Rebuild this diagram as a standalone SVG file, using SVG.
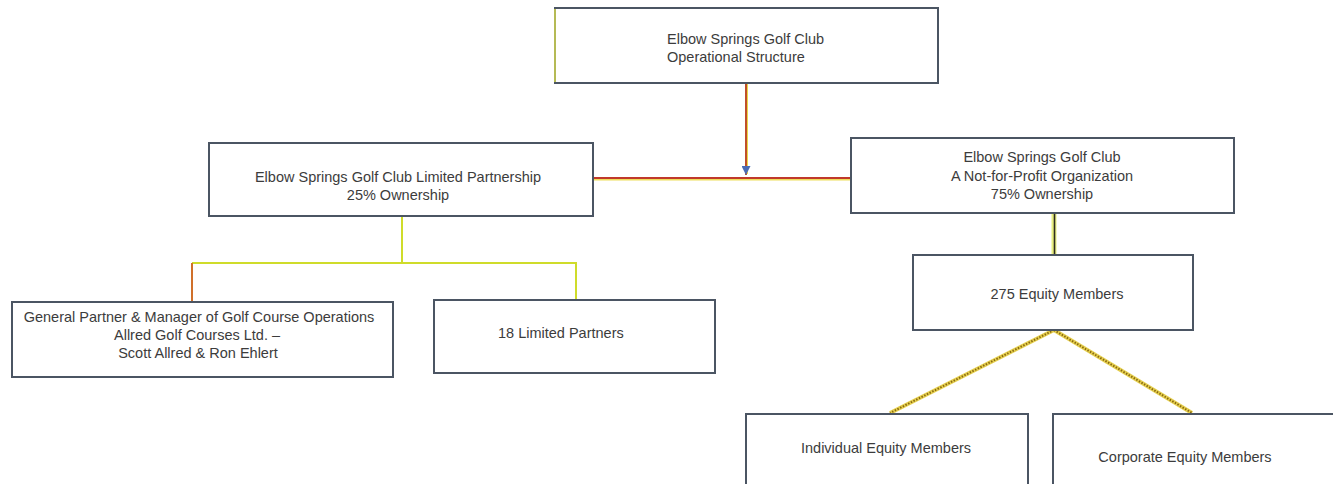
<svg xmlns="http://www.w3.org/2000/svg" width="1333" height="484" viewBox="0 0 1333 484">
<defs>
<style>
.box{fill:#ffffff;stroke:#4b5563;stroke-width:2}
.t{font-family:"Liberation Sans",Arial,sans-serif;font-size:14.5px;fill:#3c3c3c;text-anchor:middle}
.ts{text-anchor:start}
.yg{stroke:#cfdc2a;stroke-width:2;fill:none}
.dot{stroke:#e6d050;stroke-width:4;fill:none}
.dotd{stroke:#8a6a10;stroke-width:2;stroke-dasharray:1.5 1.5;fill:none}
</style>
<marker id="arr" viewBox="0 0 10 10" refX="10" refY="5" markerWidth="11" markerHeight="9" markerUnits="userSpaceOnUse" orient="auto">
<path d="M0,0 L10,5 L0,10 Z" fill="#4a6bb5"/>
</marker>
</defs>
<rect width="1333" height="484" fill="#ffffff"/>
<g id="connectors">
<line x1="747" y1="83" x2="747" y2="174" stroke="#e8d84a" stroke-width="2"/>
<line x1="746" y1="83" x2="746" y2="175" stroke="#c0502a" stroke-width="2" marker-end="url(#arr)"/>
<line x1="593" y1="179.5" x2="851" y2="179.5" stroke="#eede5a" stroke-width="2"/>
<line x1="593" y1="178" x2="851" y2="178" stroke="#c0392b" stroke-width="1.8"/>
<line class="yg" x1="402" y1="216" x2="402" y2="263"/>
<line class="yg" x1="192" y1="263" x2="577" y2="263"/>
<line x1="192" y1="263" x2="192" y2="302" stroke="#d0702a" stroke-width="2"/>
<line class="yg" x1="576" y1="263" x2="576" y2="300"/>
<line x1="1054" y1="213" x2="1054" y2="254" stroke="#e8ee80" stroke-width="5"/>
<line x1="1054.5" y1="213" x2="1054.5" y2="254" stroke="#2e2e20" stroke-width="1.6"/>
<line class="dot" x1="1054" y1="330" x2="890" y2="413"/>
<line class="dotd" x1="1054" y1="330" x2="890" y2="413"/>
<line class="dot" x1="1054" y1="330" x2="1192" y2="413"/>
<line class="dotd" x1="1054" y1="330" x2="1192" y2="413"/>
</g>
<g id="node-top">
<rect class="box" x="555" y="8" width="383" height="75"/>
<line x1="555" y1="9" x2="555" y2="82" stroke="#d8dc50" stroke-width="1.5"/>
<text class="t ts" x="667" y="44">Elbow Springs Golf Club</text>
<text class="t ts" x="667" y="62">Operational Structure</text>
</g>
<g id="node-lp">
<rect class="box" x="209" y="143" width="384" height="73"/>
<text class="t" x="398" y="182">Elbow Springs Golf Club Limited Partnership</text>
<text class="t" x="398" y="200">25% Ownership</text>
</g>
<g id="node-nfp">
<rect class="box" x="851" y="138" width="383" height="75"/>
<text class="t" x="1042" y="162">Elbow Springs Golf Club</text>
<text class="t" x="1042" y="181">A Not-for-Profit Organization</text>
<text class="t" x="1042" y="199">75% Ownership</text>
</g>
<g id="node-gp">
<rect class="box" x="12" y="302" width="381" height="75"/>
<text class="t" x="199" y="322">General Partner &amp; Manager of Golf Course Operations</text>
<text class="t" x="197" y="340">Allred Golf Courses Ltd. –</text>
<text class="t" x="198" y="358">Scott Allred &amp; Ron Ehlert</text>
</g>
<g id="node-18lp">
<rect class="box" x="434" y="300" width="281" height="73"/>
<text class="t ts" x="498" y="338">18 Limited Partners</text>
</g>
<g id="node-275">
<rect class="box" x="913" y="255" width="280" height="75"/>
<text class="t" x="1057" y="299">275 Equity Members</text>
</g>
<g id="node-individual">
<rect class="box" x="746" y="414" width="282" height="80"/>
<text class="t" x="886" y="453">Individual Equity Members</text>
</g>
<g id="node-corporate">
<rect class="box" x="1053" y="414" width="300" height="80"/>
<text class="t" x="1185" y="462">Corporate Equity Members</text>
</g>
</svg>
